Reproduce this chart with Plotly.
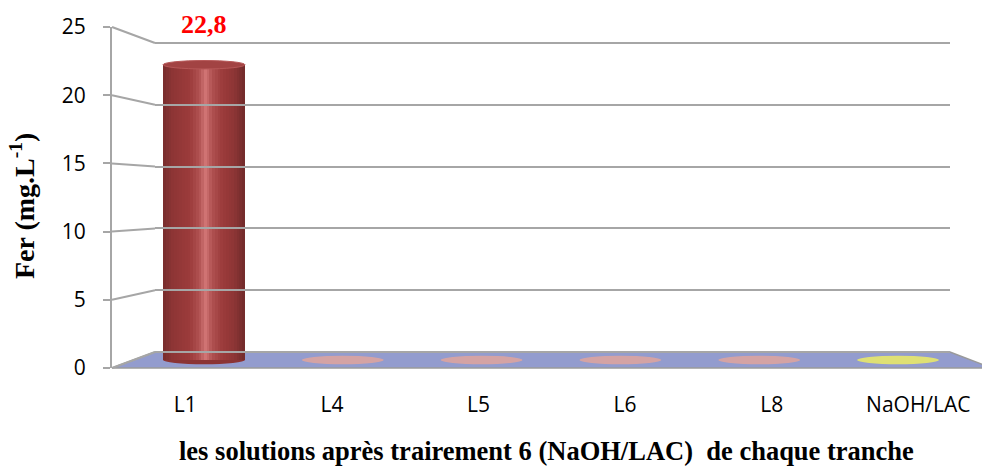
import plotly.graph_objects as go

# ---- data -------------------------------------------------------------
categories = ["L1", "L4", "L5", "L6", "L8", "NaOH/LAC"]
fer_values = [22.8, 0, 0, 0, 0, 0]
bar_colors = ["#9a3a3a", "#dca4a0", "#dca4a0", "#dca4a0", "#dca4a0", "#e8e86a"]
y_ticks = [0, 5, 10, 15, 20, 25]

# ---- page geometry (pixels) -------------------------------------------
W, H = 982, 466
GRID = "#a6a6a6"

# front plane (axis labels), bar plane, back wall
FRONT_LEFT, FRONT_ZERO, FRONT_TOP = 112, 368, 27
FRONT_STEP = 146.6                      # px per category on the front edge
BAR_FIRST, BAR_STEP = 204, 138.8        # px of first category / spacing
BAR_ZERO, BAR_SCALE = 360, 12.95        # px of value 0 / px per unit
BACK_LEFT, BACK_RIGHT, BACK_ZERO, BACK_TOP = 155, 950, 352, 43
BAR_WIDTH = 0.59                        # in category units
DISC_HALF = 4.2 / BAR_SCALE             # half height of a cylinder cap

YMAX = y_ticks[-1]


def px(x):
    return x / W


def py(y):
    return 1 - y / H


def front_y(v):
    return FRONT_ZERO - (FRONT_ZERO - FRONT_TOP) * v / YMAX


def back_y(v):
    return BACK_ZERO - (BACK_ZERO - BACK_TOP) * v / YMAX


def shade(hex_color, f):
    r, g, b = (int(hex_color[i:i + 2], 16) for i in (1, 3, 5))
    if f >= 0:
        r, g, b = (c + (255 - c) * f * 0.6 + c * f * 0.5 for c in (r, g, b))
    else:
        r, g, b = (c * (1 + f) for c in (r, g, b))
    return "#%02x%02x%02x" % tuple(int(round(max(0, min(255, c)))) for c in (r, g, b))


def interp(profile, t):
    for (t0, f0), (t1, f1) in zip(profile, profile[1:]):
        if t0 <= t <= t1:
            return f0 + (f1 - f0) * (t - t0) / (t1 - t0)
    return profile[-1][1]


# light falls on the cylinders slightly right of centre
CYL_PROFILE = [(0, -0.22), (0.12, -0.08), (0.34, 0.02), (0.44, 0.16),
               (0.52, 0.40), (0.60, 0.16), (0.70, 0.03), (0.86, -0.08), (1, -0.26)]

fig = go.Figure()

# cylinders built from thin vertical bar strips
N = 30
dw = BAR_WIDTH / N
for k in range(N):
    t = (k + 0.5) / N
    f = interp(CYL_PROFILE, t)
    fig.add_trace(go.Bar(
        x=categories, y=fer_values,
        width=dw * 1.08, offset=-BAR_WIDTH / 2 + k * dw,
        marker=dict(color=[shade(c, f) for c in bar_colors], line=dict(width=0)),
        showlegend=False, hoverinfo="skip",
    ))

# helper traces so the front and back axes get drawn
fig.add_trace(go.Scatter(x=categories, y=[None] * len(categories),
                         xaxis="x2", yaxis="y2", showlegend=False, hoverinfo="skip"))
fig.add_trace(go.Scatter(x=[0], y=[None], xaxis="x3", yaxis="y3",
                         showlegend=False, hoverinfo="skip"))

shapes = []

# floor
shapes.append(dict(
    type="path", xref="paper", yref="paper", layer="below",
    path="M {},{} L {},{} L {},{} L {},{} Z".format(
        px(FRONT_LEFT), py(FRONT_ZERO), px(BACK_LEFT), py(BACK_ZERO),
        px(BACK_RIGHT), py(BACK_ZERO),
        px(FRONT_LEFT + 6 * FRONT_STEP), py(FRONT_ZERO)),
    fillcolor="#939cce", line=dict(color="#9a9a9a", width=1.5),
))

# side-wall connectors between front axis and back wall
for v in y_ticks:
    shapes.append(dict(
        type="line", xref="paper", yref="paper", layer="below",
        x0=px(FRONT_LEFT), y0=py(front_y(v)), x1=px(BACK_LEFT), y1=py(back_y(v)),
        line=dict(color=GRID, width=2),
    ))

# cylinder caps
for i, (v, c) in enumerate(zip(fer_values, bar_colors)):
    shapes.append(dict(
        type="circle", xref="x", yref="y", layer="below",
        x0=i - BAR_WIDTH / 2, x1=i + BAR_WIDTH / 2,
        y0=-DISC_HALF, y1=DISC_HALF,
        fillcolor=shade(c, -0.1) if v > 0 else c,
        line=dict(width=0), opacity=1 if v > 0 else 0.9,
    ))
    if v > 0:
        shapes.append(dict(
            type="circle", xref="x", yref="y", layer="above",
            x0=i - BAR_WIDTH / 2, x1=i + BAR_WIDTH / 2,
            y0=v - DISC_HALF, y1=v + DISC_HALF,
            fillcolor=shade(c, 0.06), line=dict(color=shade(c, 0.2), width=1),
        ))

annotations = []
for i, v in enumerate(fer_values):
    if v > 0:
        annotations.append(dict(
            x=categories[i], y=v, xref="x", yref="y",
            text="{:.1f}".format(v).replace(".", ","),
            showarrow=False, yanchor="middle", yshift=40,
            font=dict(family="Liberation Serif", size=26, color="#ff0000", weight="bold"),
        ))

annotations.append(dict(
    x=px(546), y=py(451), xref="paper", yref="paper", showarrow=False,
    text="<b>les solutions après trairement 6 (NaOH/LAC)  de chaque tranche</b>",
    font=dict(family="Liberation Serif", size=26.5, color="#000000"),
    xanchor="center", yanchor="middle",
))
annotations.append(dict(
    x=px(22), y=py(206), xref="paper", yref="paper", showarrow=False,
    text="<b>Fer (mg.L<sup>-1</sup>)</b>", textangle=-90,
    font=dict(family="Liberation Serif", size=28, color="#000000"),
    xanchor="center", yanchor="middle",
))

# back wall axis is padded by a pixel on each end so the top gridline shows
PAD = 2
back_scale = (BACK_ZERO - BACK_TOP) / YMAX

fig.update_layout(
    width=W, height=H,
    margin=dict(l=0, r=0, t=0, b=0, autoexpand=False),
    paper_bgcolor="white", plot_bgcolor="rgba(0,0,0,0)",
    barmode="overlay", bargap=0,
    shapes=shapes, annotations=annotations,
    # bar plane
    xaxis=dict(domain=[0, 1], type="category", categoryarray=categories,
               range=[-BAR_FIRST / BAR_STEP, (W - BAR_FIRST) / BAR_STEP],
               visible=False, fixedrange=True, automargin=False),
    yaxis=dict(domain=[0, 1],
               range=[(BAR_ZERO - H) / BAR_SCALE, BAR_ZERO / BAR_SCALE],
               visible=False, fixedrange=True, automargin=False),
    # front edge: value and category labels
    xaxis2=dict(domain=[px(FRONT_LEFT), 1], anchor="y2", type="category",
                categoryarray=categories,
                range=[-0.5, -0.5 + (W - FRONT_LEFT) / FRONT_STEP],
                showgrid=False, zeroline=False, showline=False, ticks="",
                ticklabelstandoff=22, automargin=False,
                tickfont=dict(family="Open Sans", size=21, color="#000000")),
    yaxis2=dict(domain=[py(FRONT_ZERO), py(FRONT_TOP)], anchor="x2",
                range=[0, YMAX], tickvals=y_ticks,
                showgrid=False, zeroline=False,
                showline=True, linecolor=GRID, linewidth=2,
                ticks="outside", ticklen=7, tickcolor=GRID, tickwidth=2,
                ticklabelstandoff=13, automargin=False,
                tickfont=dict(family="Open Sans", size=21, color="#000000")),
    # back wall gridlines
    xaxis3=dict(domain=[px(BACK_LEFT), px(BACK_RIGHT)], anchor="y3",
                range=[0, 1], visible=False, automargin=False),
    yaxis3=dict(domain=[py(BACK_ZERO + PAD), py(BACK_TOP - PAD)], anchor="x3",
                range=[-PAD / back_scale, YMAX + PAD / back_scale],
                tickvals=y_ticks, showticklabels=False,
                showgrid=True, gridcolor=GRID, gridwidth=2,
                zeroline=False, showline=False, ticks="", automargin=False),
)

fig.write_html("out.html")
